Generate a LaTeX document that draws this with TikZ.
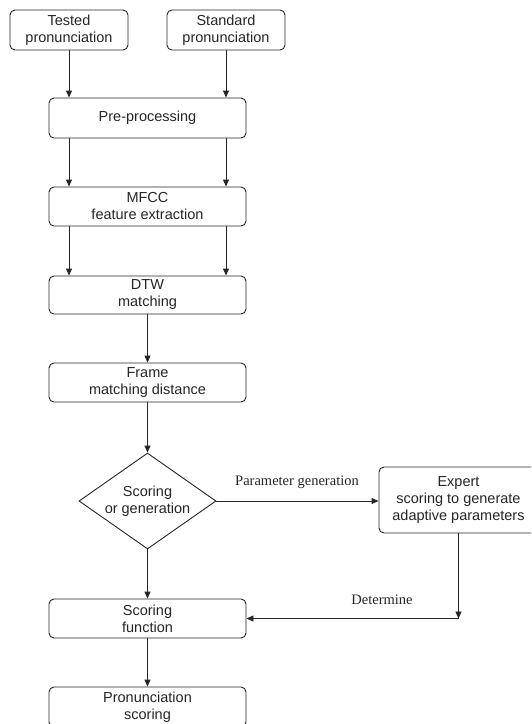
\documentclass[tikz,border=0pt]{standalone}
\usepackage{fontspec}
\setmainfont{Liberation Serif}
\setsansfont{Liberation Sans}
\usetikzlibrary{shapes.geometric,arrows.meta}
\begin{document}
\begin{tikzpicture}[x=1pt,y=-1pt,
  box/.style={draw=black!85, rounded corners=5pt, line width=0.9pt, text=black!85,
    font=\sffamily\fontsize{14.5}{17}\selectfont, align=center, inner sep=0pt},
  widebox/.style={box, minimum width=197pt, minimum height=39pt},
  arr/.style={draw=black!85, -{Triangle[length=7pt,width=6pt]}, line width=0.9pt},
  lbl/.style={font=\fontsize{14.5}{17}\selectfont, text=black!85}]
\useasboundingbox (0,0) rectangle (531,724);
\clip (0,0) rectangle (531,724);
\fill[white] (0,0) rectangle (531,724);
\node[box, minimum width=118pt, minimum height=40pt] (tp) at (69,30) {Tested\\pronunciation};
\node[box, minimum width=118pt, minimum height=40pt] (sp) at (226,30) {Standard\\pronunciation};
\node[widebox, minimum height=40pt] (pre) at (147.5,118) {Pre-processing};
\node[widebox] (mf) at (147.5,206.5) {MFCC\\feature extraction};
\node[widebox, minimum height=38pt] (dtw) at (147.5,295) {DTW\\matching};
\node[widebox] (fr) at (147.5,382.5) {Frame\\matching distance};
\node[draw=black!85, line width=0.9pt, diamond, aspect=1.43, minimum width=137pt, minimum height=96pt,
  inner sep=0pt, align=center, text=black!85, font=\sffamily\fontsize{14.5}{17}\selectfont] (dec) at (147.5,501) {Scoring\\or generation};
\node[box, minimum width=159pt, minimum height=66pt] (ex) at (458.5,500) {Expert\\scoring to generate\\adaptive parameters};
\node[widebox] (sf) at (147.5,618.5) {Scoring\\function};
\node[widebox, minimum height=40pt] (ps) at (147.5,707) {Pronunciation\\scoring};
\coordinate (c) at (458.5,618.5);

\draw[arr] (tp) -- (tp |- pre.north);
\draw[arr] (sp) -- (sp |- pre.north);
\draw[arr] (pre.south -| tp) -- (mf.north -| tp);
\draw[arr] (pre.south -| sp) -- (mf.north -| sp);
\draw[arr] (mf.south -| tp) -- (dtw.north -| tp);
\draw[arr] (mf.south -| sp) -- (dtw.north -| sp);
\draw[arr] (dtw) -- (fr);
\draw[arr] (fr.south) -- (dec.north);
\draw[arr] (dec.east) -- (ex.west |- dec.east);
\draw[arr] (dec.south) -- (sf.north);
\draw[arr] (ex.south) -- (c);
\draw[arr] (c) -- (sf.east);
\draw[arr] (sf) -- (ps);

\node[lbl] (lp) at (297,482) {Parameter generation};
\node[lbl] (ld) at (382,600) {Determine};
\end{tikzpicture}
\end{document}
